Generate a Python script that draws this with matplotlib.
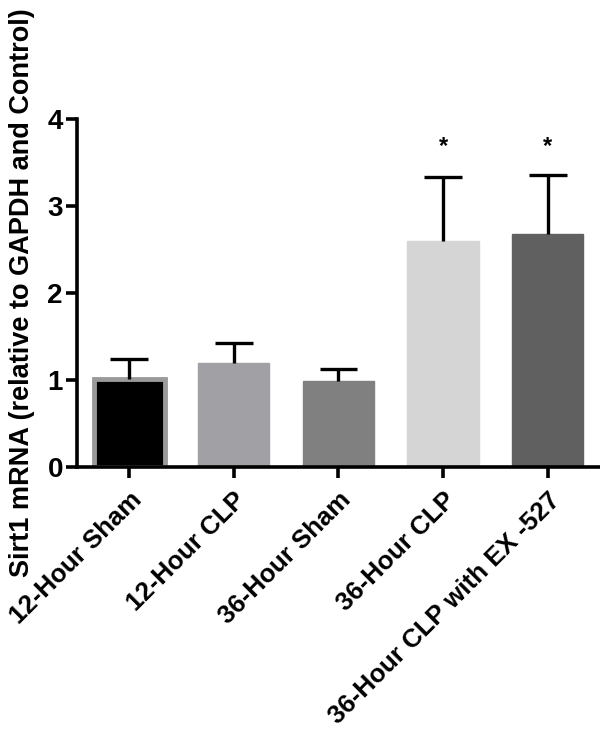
import numpy as np
import matplotlib.pyplot as plt

plt.rcParams['font.family'] = ['Liberation Sans', 'DejaVu Sans']
plt.rcParams['font.weight'] = 'bold'

groups = ["12-Hour Sham", "12-Hour CLP", "36-Hour Sham", "36-Hour CLP",
          "36-Hour CLP with EX -527"]
means = [1.01, 1.20, 0.99, 2.60, 2.68]
errs = [0.23, 0.22, 0.14, 0.73, 0.68]
signif = ["", "", "", "*", "*"]

fill = ["#000000", "#a1a1a5", "#808080", "#d5d5d5", "#606060"]
edge = ["#9a9a9a", "#a1a1a5", "#808080", "#d5d5d5", "#606060"]

fig = plt.figure(figsize=(6, 7.35), dpi=100)
ax = fig.add_axes([0.128, 0.3646, 0.872, 0.4734])

x = np.arange(len(groups))
ax.bar(x, means, width=0.68, color=fill, edgecolor=edge,
       linewidth=[3.5, 1, 1, 1, 1], zorder=2)

# upper-only error bars, no cap at the bar top
tops = np.array(means) + np.array(errs)
ax.vlines(x, means, tops, color='black', linewidth=2.4, zorder=3)
ax.hlines(tops, x - 0.18, x + 0.18, color='black', linewidth=2.4, zorder=3)

for xi, s in zip(x, signif):
    if s:
        ax.text(xi, 3.69, s, ha='center', va='center', fontsize=17, fontweight='bold')

ax.set_xlim(-0.5, 4.5)
ax.set_ylim(0, 4)
ax.set_yticks([0, 1, 2, 3, 4])
ax.set_xticks(x)
ax.set_xticklabels(groups, rotation=45, ha='right', rotation_mode='anchor', fontsize=18.6)
ax.tick_params(axis='y', labelsize=20, width=2.6, length=8, pad=2)
ax.tick_params(axis='x', width=2.6, length=8, pad=7)
for lbl in ax.get_yticklabels() + ax.get_xticklabels():
    lbl.set_fontweight('bold')

ax.spines['top'].set_visible(False)
ax.spines['right'].set_visible(False)
ax.spines['left'].set_linewidth(2.6)
ax.spines['bottom'].set_linewidth(2.6)

ax.set_ylabel("Sirt1 mRNA (relative to GAPDH and Control)", fontsize=19.5, fontweight='bold')
ax.yaxis.set_label_coords(-0.08, 0.5)

plt.savefig("out.png", dpi=100)
plt.close("all")
